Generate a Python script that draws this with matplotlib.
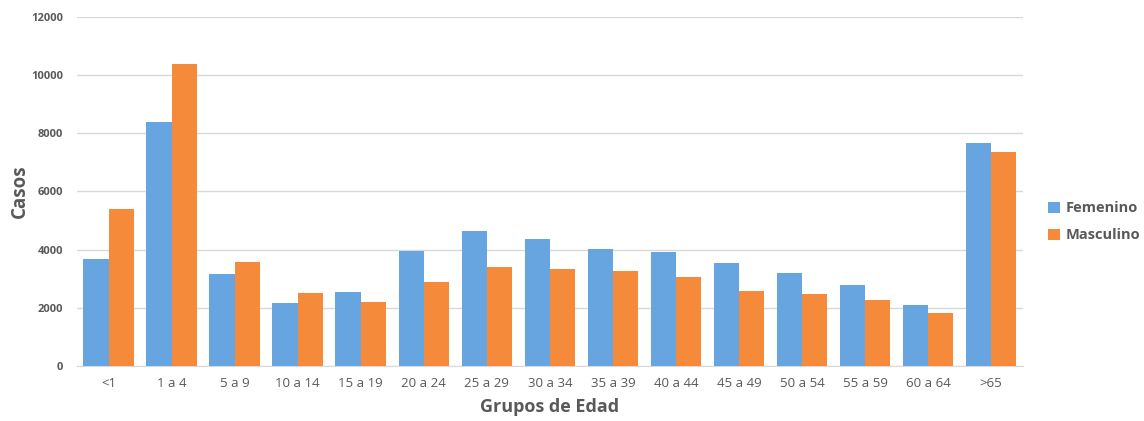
import matplotlib.pyplot as plt
import numpy as np

plt.rcParams['font.family'] = ['Open Sans', 'DejaVu Sans']

# Casos por grupo de edad y sexo
grupos = ['<1', '1 a 4', '5 a 9', '10 a 14', '15 a 19', '20 a 24', '25 a 29', '30 a 34',
          '35 a 39', '40 a 44', '45 a 49', '50 a 54', '55 a 59', '60 a 64', '>65']
femenino = [3680, 8400, 3150, 2170, 2540, 3950, 4650, 4370, 4030, 3910, 3550, 3190, 2780, 2110, 7650]
masculino = [5380, 10380, 3580, 2500, 2190, 2880, 3420, 3330, 3260, 3070, 2590, 2480, 2280, 1830, 7370]

color_f = '#67A5E0'
color_m = '#F68A3B'
gris = '#595959'

fig = plt.figure(figsize=(11.44, 4.21), dpi=100)
ax = fig.add_axes([0.0673, 0.1306, 0.8267, 0.8294])

x = np.arange(len(grupos))
ancho = 0.4
ax.bar(x - ancho / 2, femenino, ancho, color=color_f, linewidth=0, label='Femenino', zorder=3)
ax.bar(x + ancho / 2, masculino, ancho, color=color_m, linewidth=0, label='Masculino', zorder=3)

ax.set_xlim(-0.5, len(grupos) - 0.5)
ax.set_ylim(0, 12000)
ax.set_yticks(np.arange(0, 12001, 2000))
ax.yaxis.grid(True, color='#D9D9D9', linewidth=1, zorder=0)
ax.set_xticks(x)
ax.set_xticklabels(grupos, fontsize=9.5, color=gris)
ax.tick_params(axis='y', labelsize=8, labelcolor=gris, length=0, pad=10)
ax.tick_params(axis='x', length=0, pad=8)
for lbl in ax.get_yticklabels():
    lbl.set_fontweight('bold')

for lado in ['top', 'right', 'left']:
    ax.spines[lado].set_visible(False)
ax.spines['bottom'].set_color('#D9D9D9')

ax.set_ylabel('Casos', fontsize=13.5, fontweight='bold', color=gris)
ax.yaxis.set_label_coords(-0.05, 0.5)
ax.set_xlabel('Grupos de Edad', fontsize=13, fontweight='bold', color=gris, labelpad=6)

fig.legend(loc='center left', bbox_to_anchor=(0.916, 0.473), frameon=False,
           borderpad=0, borderaxespad=0,
           prop={'size': 10.5, 'weight': 'bold'}, labelcolor=gris,
           handlelength=0.8, handleheight=0.8, handletextpad=0.4, labelspacing=0.9)

fig.savefig('out.png', dpi=100)
